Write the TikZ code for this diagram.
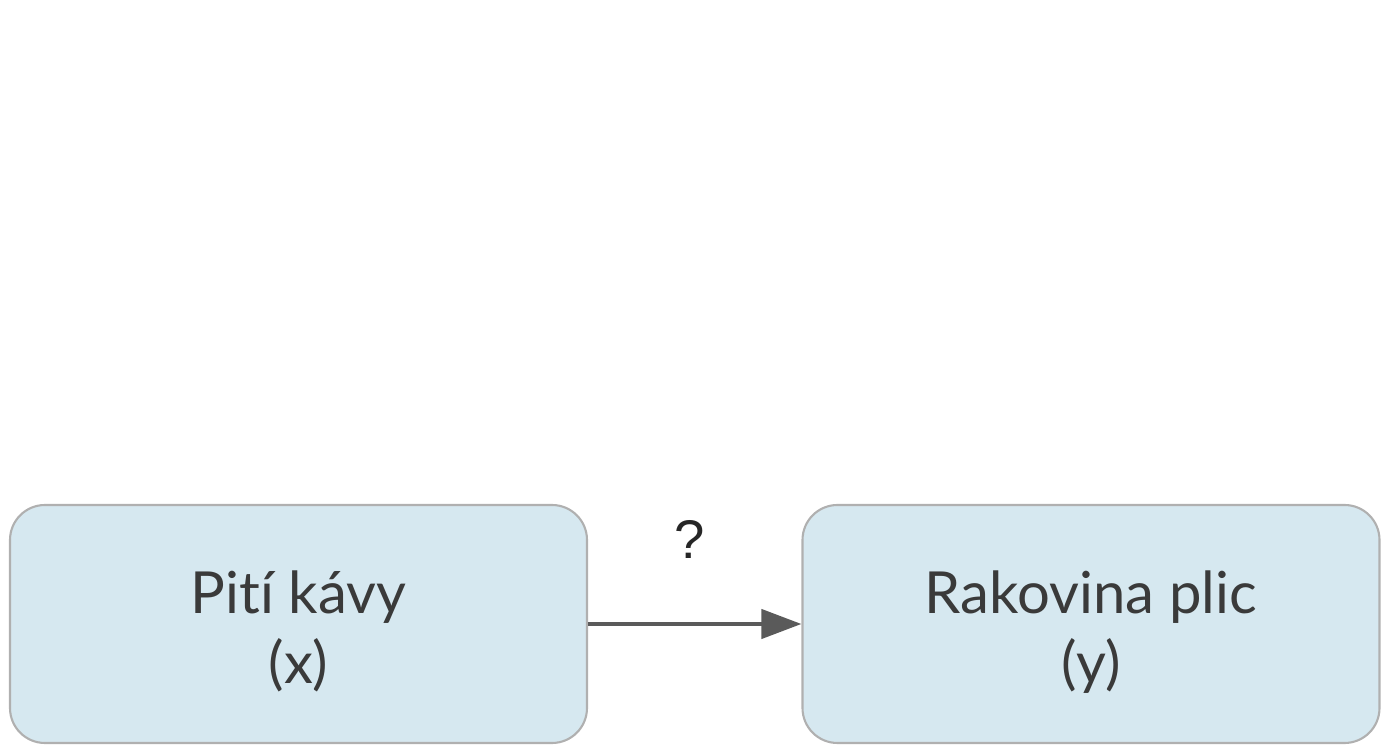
\documentclass[tikz,border=0pt]{standalone}
\usepackage{fontspec}
\setmainfont{Lato}[Ligatures=NoCommon]
\newfontfamily\qfont{Liberation Sans}
\usetikzlibrary{positioning,arrows.meta}
\definecolor{boxfill}{HTML}{D6E8F0}
\definecolor{boxline}{HTML}{B0B0B0}
\definecolor{txt}{HTML}{3A3A3A}
\definecolor{arr}{HTML}{5A5A5A}
\newcommand{\lowtext}[1]{\raisebox{-0.21cm}[\height][\depth]{\begin{tabular}{c}#1\end{tabular}}}
\begin{document}
\begin{tikzpicture}[
    var/.style={rectangle, rounded corners=0.7cm, draw=boxline, line width=1.2pt, fill=boxfill,
                minimum width=11.54cm, minimum height=4.76cm, align=center,
                font=\fontsize{33}{39.5}\selectfont, text=txt},
    link/.style={draw=arr, line width=2.4pt, -{Triangle[length=0.8cm, width=0.58cm]}},
    qlbl/.style={font=\qfont\fontsize{31}{36}\selectfont, text=black!85}
]
  \useasboundingbox (0,0) rectangle (27.64,15.04);
  % Variables
  \node[var] (x) at (5.97,2.56) {\lowtext{Pití kávy\\(x)}};
  \node[var] (y) at (21.82,2.56) {\lowtext{Rakovina plic\\(y)}};
  % Causal link
  \draw[link] (x) -- (y);
  \node[qlbl] (q) at (13.8,4.26) {?};
\end{tikzpicture}
\end{document}
